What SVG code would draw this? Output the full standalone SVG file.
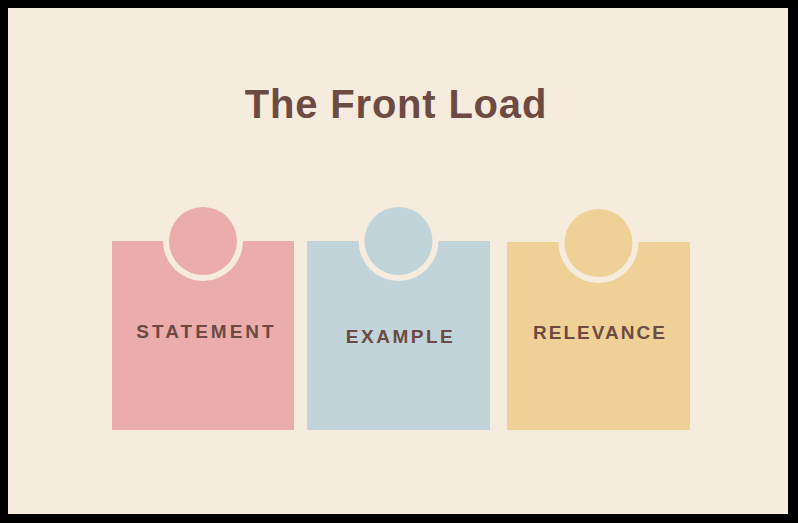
<svg xmlns="http://www.w3.org/2000/svg" width="798" height="523" viewBox="0 0 798 523">
<style>
.title{font-family:"Liberation Sans",Arial,sans-serif;font-weight:bold;font-size:40px;fill:#6d4a42;letter-spacing:0.8px}
.lbl{font-family:"Liberation Sans",Arial,sans-serif;font-weight:bold;font-size:19px;fill:#6d4a42}
.ring{fill:#f6ecde}
.pink{fill:#ebadab}
.blue{fill:#c0d4d9}
.yellow{fill:#efd198}
</style>
<rect x="0" y="0" width="798" height="523" fill="#000"/>
<rect x="8" y="8" width="780" height="506" fill="#f6ecde"/>
<text class="title" x="396" y="118" text-anchor="middle">The Front Load</text>
<g id="statement">
<rect class="pink" x="112" y="241" width="182" height="189"/>
<circle class="ring" cx="203" cy="241" r="40"/>
<circle class="pink" cx="203" cy="241" r="34"/>
<text class="lbl" x="206.5" y="338" text-anchor="middle" letter-spacing="3">STATEMENT</text>
</g>
<g id="example">
<rect class="blue" x="307" y="241" width="183" height="189"/>
<circle class="ring" cx="398.5" cy="241" r="40"/>
<circle class="blue" cx="398.5" cy="241" r="34"/>
<text class="lbl" x="400.5" y="343" text-anchor="middle" letter-spacing="2.5">EXAMPLE</text>
</g>
<g id="relevance">
<rect class="yellow" x="507" y="242" width="183" height="188"/>
<circle class="ring" cx="598.5" cy="243" r="40"/>
<circle class="yellow" cx="598.5" cy="243" r="34"/>
<text class="lbl" x="600" y="339" text-anchor="middle" letter-spacing="2">RELEVANCE</text>
</g>
<g id="connectors"></g>
</svg>
